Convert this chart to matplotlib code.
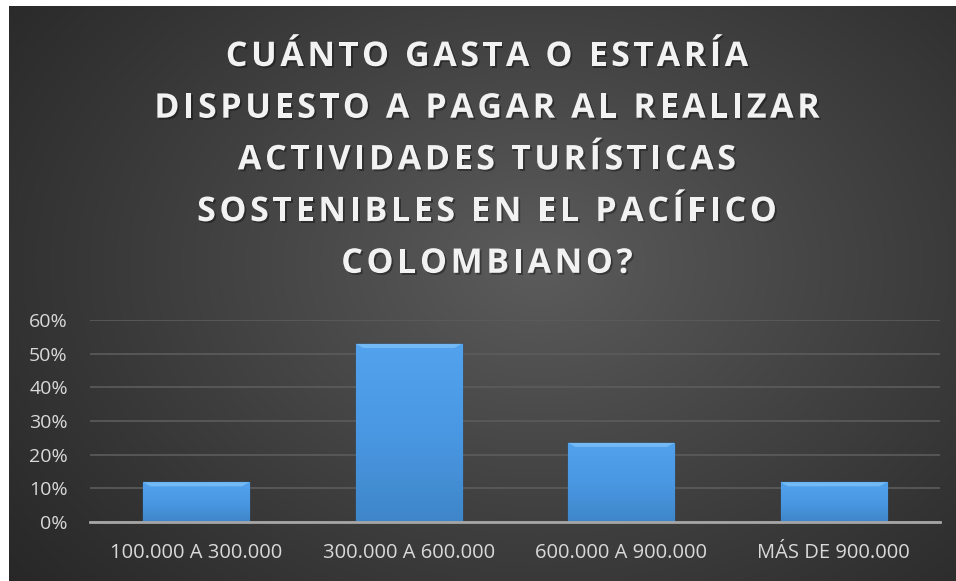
import numpy as np
import matplotlib
matplotlib.use("Agg")
import matplotlib.pyplot as plt
import matplotlib.patheffects as pe
from matplotlib.ticker import PercentFormatter
from matplotlib.textpath import TextPath
from matplotlib.patches import PathPatch
from matplotlib.font_manager import FontProperties, findfont, get_font
from matplotlib.transforms import Affine2D
from matplotlib.ft2font import LoadFlags

# datos de la encuesta
categorias = ["100.000 A 300.000", "300.000 A 600.000", "600.000 A 900.000", "MÁS DE 900.000"]
porcentajes = [0.118, 0.529, 0.235, 0.118]
lineas_titulo = ["CUÁNTO GASTA O ESTARÍA", "DISPUESTO A PAGAR AL REALIZAR",
                 "ACTIVIDADES TURÍSTICAS", "SOSTENIBLES EN EL PACÍFICO", "COLOMBIANO?"]

W, H = 956, 581
fig = plt.figure(figsize=(W / 100, H / 100), dpi=100, facecolor="white")

# fondo con degradado radial
bg = fig.add_axes([9 / W, 0, (W - 9) / W, (H - 6) / H])
bg.set_axis_off()
yy, xx = np.mgrid[0:1:300j, 0:1:500j]
r = np.sqrt(((xx - 0.56) / 0.75) ** 2 + ((yy - 0.45) / 0.9) ** 2)
val = np.clip(1 - r, 0, 1) ** 1.1
c0, c1 = np.array([0.15, 0.15, 0.15]), np.array([0.36, 0.36, 0.36])
img = c0 + (c1 - c0) * val[..., None]
bg.imshow(img, aspect="auto", extent=[0, 1, 0, 1], origin="upper")
bg.set_xlim(0, 1); bg.set_ylim(0, 1)

# titulo con espaciado entre letras (cada letra como trazado)
prop = FontProperties(family="Open Sans", weight="bold")
em = 34.0          # px
track = 3.6        # px extra por letra
font = get_font(findfont(prop))
avances_lineas = []
for linea in lineas_titulo:
    fila = []
    for ch in linea:
        font.set_size(em, 72)
        fila.append(font.load_char(ord(ch), flags=LoadFlags.NO_HINTING).linearHoriAdvance / 65536)
    avances_lineas.append(fila)

pix2fig = Affine2D().scale(1 / W, 1 / H) + fig.transFigure
sombra = [pe.SimplePatchShadow(offset=(1.3, -1.3), shadow_rgbFace="black", alpha=0.35),
          pe.Normal()]
for i, (linea, avances) in enumerate(zip(lineas_titulo, avances_lineas)):
    ancho = sum(avances) + track * (len(linea) - 1)
    x = 487 - ancho / 2
    base = H - (66 + 51.7 * i)
    for ch, adv in zip(linea, avances):
        if ch != " ":
            tp = TextPath((0, 0), ch, size=em, prop=prop)
            p = PathPatch(tp, facecolor="#f2f2f2", edgecolor="none",
                          transform=Affine2D().translate(x, base) + pix2fig)
            p.set_path_effects(sombra)
            fig.add_artist(p)
        x += adv + track

ax = fig.add_axes([90 / W, (H - 522) / H, 850 / W, 202 / H])
ax.patch.set_alpha(0)
x = np.arange(len(categorias))
barras = ax.bar(x, porcentajes, width=0.5, color="#4a96de", edgecolor="#2b6aa6",
                linewidth=1, zorder=3)

# degradado dentro de cada barra
grad = np.linspace(0, 1, 100)[:, None]
cmap = matplotlib.colors.LinearSegmentedColormap.from_list("b", ["#3f86c9", "#4a98e3", "#52a2ee"])
for b in barras:
    x0, w, h = b.get_x(), b.get_width(), b.get_height()
    im = ax.imshow(grad, cmap=cmap, aspect="auto", origin="lower",
                   extent=[x0, x0 + w, 0, h], zorder=3.5)
    im.set_clip_path(b)
    # bisel superior
    ax.fill([x0, x0 + w, x0 + w * 0.93, x0 + w * 0.07],
            [h, h, h - 0.012, h - 0.012], color="#7cc0f7", alpha=0.8, zorder=4, lw=0)

ax.set_xlim(-0.5, 3.5)
ax.set_ylim(0, 0.6)
ax.yaxis.set_major_formatter(PercentFormatter(1.0, decimals=0))
ax.set_yticks(np.arange(0, 0.61, 0.1))
ax.set_xticks(x)
ax.set_xticklabels(categorias)
ax.grid(axis="y", color="#5c5c5c", linewidth=1.2, zorder=0)
for s in ["top", "right", "left"]:
    ax.spines[s].set_visible(False)
ax.spines["bottom"].set_color("#a6a6a6")
ax.spines["bottom"].set_linewidth(2)
ax.spines["bottom"].set_zorder(5)
ax.tick_params(length=0, colors="#d9d9d9", labelsize=14.5)
ax.tick_params(axis="y", labelsize=14, pad=16)
ax.tick_params(axis="x", pad=15)
for t in ax.get_xticklabels() + ax.get_yticklabels():
    t.set_family("Open Sans")

fig.savefig("out.png", dpi=100, facecolor="white")
